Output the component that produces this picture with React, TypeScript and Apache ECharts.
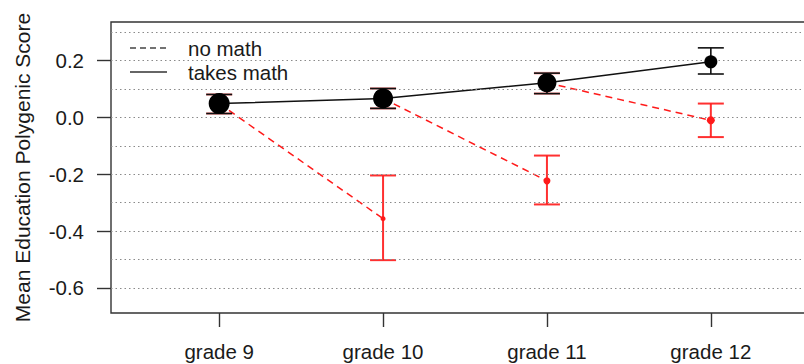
import React, { useEffect, useRef } from "react";
import * as echarts from "echarts";

// Grades on the x axis (positions 1..4)
const grades = ["grade 9", "grade 10", "grade 11", "grade 12"];
const gradePos = [1, 2, 3, 4];

// Students who take math in a given grade
const takesMean = [0.049, 0.067, 0.122, 0.196];
const takesLow = [0.014, 0.032, 0.084, 0.153];
const takesHigh = [0.081, 0.102, 0.156, 0.245];
const takesSize = [21, 20, 19, 13];

// Students who stop taking math (grades 10..12)
const noMathPos = [2, 3, 4];
const noMathMean = [-0.356, -0.223, -0.01];
const noMathLow = [-0.502, -0.306, -0.069];
const noMathHigh = [-0.204, -0.134, 0.049];
const noMathSize = [5, 7, 8];

// Axis ticks and reference lines
const yTickValues = [-0.6, -0.4, -0.2, 0, 0.2];
const gridValues = [-0.6, -0.5, -0.4, -0.3, -0.2, -0.1, 0, 0.1, 0.2, 0.3];

const FONT = "'Liberation Sans', Arial, Helvetica, sans-serif";
const TEXT = "#1a1a1a";
const RED = "#ff1a1a";

function errorBars(data: number[][], color: string, width: number, opacity = 1, z = 3) {
  return {
    type: "custom",
    z,
    silent: true,
    encode: { x: 0, y: [1, 2] },
    data,
    renderItem: (_params: any, api: any) => {
      const x = api.value(0);
      const top = api.coord([x, api.value(2)]);
      const bot = api.coord([x, api.value(1)]);
      const half = 13;
      const style = { stroke: color, lineWidth: width, opacity };
      return {
        type: "group",
        children: [
          { type: "line", shape: { x1: top[0], y1: top[1], x2: bot[0], y2: bot[1] }, style },
          { type: "line", shape: { x1: top[0] - half, y1: top[1], x2: top[0] + half, y2: top[1] }, style },
          { type: "line", shape: { x1: bot[0] - half, y1: bot[1], x2: bot[0] + half, y2: bot[1] }, style },
        ],
      };
    },
  };
}

export default function App() {
  const ref = useRef<HTMLDivElement>(null);

  useEffect(() => {
    if (!ref.current) return;
    const chart = echarts.init(ref.current, null, { renderer: "svg" });

    const takesPts = gradePos.map((g, i) => [g, takesMean[i]]);
    const noMathPts = noMathPos.map((g, i) => [g, noMathMean[i]]);

    // dashed transitions: takes math in grade k -> no math in grade k+1
    const transitions = noMathPos.map((g, i) => {
      const from = gradePos.indexOf(g) - 1;
      return {
        type: "line",
        z: 2,
        silent: true,
        symbol: "none",
        data: [
          [gradePos[from], takesMean[from]],
          [g, noMathMean[i]],
        ],
        lineStyle: { color: RED, width: 1.5, type: [7, 5] },
      };
    });

    const option: any = {
      animation: false,
      grid: { left: 111, right: 11, top: 22, bottom: 51, show: true, borderColor: "#333", borderWidth: 1.4, backgroundColor: "transparent" },
      xAxis: {
        type: "value",
        min: 0.34,
        max: 4.66,
        axisLine: { show: false, onZero: false },
        splitLine: { show: false },
        axisTick: { show: true, customValues: gradePos, length: 14, lineStyle: { color: "#333", width: 1.4 } },
        axisLabel: {
          customValues: gradePos,
          formatter: (v: number) => grades[gradePos.indexOf(Math.round(v))] ?? "",
          margin: 28,
          fontSize: 20.5,
          fontFamily: FONT,
          color: TEXT,
        },
      },
      yAxis: {
        type: "value",
        min: -0.688,
        max: 0.336,
        name: "Mean Education Polygenic Score",
        nameLocation: "middle",
        nameGap: 78,
        nameTextStyle: { fontSize: 21, fontFamily: FONT, color: TEXT },
        axisLine: { show: false, onZero: false },
        splitLine: { show: false },
        axisTick: { show: true, customValues: yTickValues, length: 14, lineStyle: { color: "#333", width: 1.4 } },
        axisLabel: {
          customValues: yTickValues,
          formatter: (v: number) => v.toFixed(1),
          margin: 27,
          fontSize: 20.5,
          fontFamily: FONT,
          color: TEXT,
        },
      },
      graphic: [
        { type: "line", shape: { x1: 130, y1: 48, x2: 167, y2: 48 }, style: { stroke: "#444", lineWidth: 1.5, lineDash: [6, 4] } },
        { type: "line", shape: { x1: 130, y1: 72, x2: 167, y2: 72 }, style: { stroke: "#333", lineWidth: 1.5 } },
        { type: "text", x: 188, y: 48, style: { text: "no math", fontSize: 20.5, fontFamily: FONT, fill: TEXT, verticalAlign: "middle" } },
        { type: "text", x: 188, y: 72, style: { text: "takes math", fontSize: 20.5, fontFamily: FONT, fill: TEXT, verticalAlign: "middle" } },
      ],
      series: [
        {
          type: "line",
          z: 1,
          silent: true,
          data: [],
          markLine: {
            silent: true,
            symbol: ["none", "none"],
            label: { show: false },
            lineStyle: { color: "#8a8a8a", width: 1, type: [1.5, 3] },
            data: gridValues.map((v) => ({ yAxis: v })),
          },
        },
        ...transitions,
        {
          type: "line",
          z: 2,
          silent: true,
          symbol: "none",
          data: takesPts,
          lineStyle: { color: "#111", width: 1.5 },
        },
        // red under-bars where the dashed transitions leave the black points
        errorBars(
          gradePos.slice(0, 3).map((g, i) => [g, takesLow[i], takesHigh[i]]),
          RED, 2.6, 0.4, 3
        ),
        errorBars(gradePos.map((g, i) => [g, takesLow[i], takesHigh[i]]), "#111", 1.6, 1, 4),
        errorBars(noMathPos.map((g, i) => [g, noMathLow[i], noMathHigh[i]]), RED, 2, 0.9, 4),
        {
          type: "scatter",
          z: 5,
          silent: true,
          data: takesPts,
          symbol: "circle",
          symbolSize: (_v: any, p: any) => takesSize[p.dataIndex],
          itemStyle: { color: "#000", opacity: 1 },
        },
        {
          type: "scatter",
          z: 5,
          silent: true,
          data: noMathPts,
          symbol: "circle",
          symbolSize: (_v: any, p: any) => noMathSize[p.dataIndex],
          itemStyle: { color: RED, opacity: 1 },
        },
      ],
    };

    chart.setOption(option);
    return () => chart.dispose();
  }, []);

  return (
    <div style={{ position: "absolute", left: 0, top: 0, width: 804, height: 364, overflow: "hidden", background: "#fff" }}>
      <div ref={ref} style={{ width: 830, height: 364 }} />
    </div>
  );
}
